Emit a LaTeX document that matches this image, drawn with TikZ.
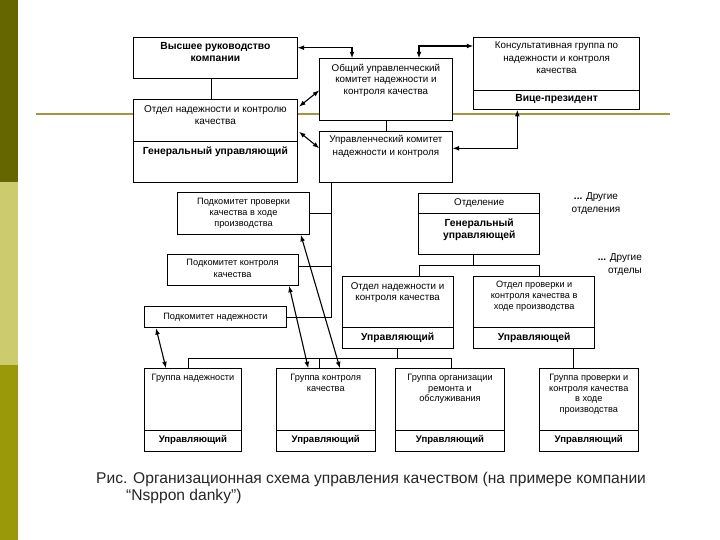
\documentclass[tikz,border=0pt]{standalone}
\usepackage{fontspec}
\setmainfont{Liberation Sans}
\usetikzlibrary{arrows.meta}
\definecolor{bartop}{RGB}{102,102,0}
\definecolor{barmid}{RGB}{204,204,110}
\definecolor{barbot}{RGB}{153,153,10}
\definecolor{tmplline}{RGB}{160,152,60}
\begin{document}
\begin{tikzpicture}[x=1pt,y=-1pt,
  box/.style={draw, fill=white, line width=0.8pt, inner sep=0pt, anchor=north west},
  txt/.style={font=\fontsize{9.8}{11.5}\selectfont, align=center, inner sep=0pt, anchor=north},
  btxt/.style={font=\fontsize{10.3}{12}\selectfont\bfseries, align=center, inner sep=0pt},
  arr/.style={{Latex[length=6.5pt,width=4.8pt]}-{Latex[length=6.5pt,width=4.8pt]}, line width=1.1pt},
  con/.style={line width=0.8pt},
  dv/.style={line width=0.8pt}]
\useasboundingbox (0,0) rectangle (720,540);
\fill[white] (0,0) rectangle (720,540);
\fill[bartop] (0,0) rectangle (17.5,182);
\fill[barmid] (0,182) rectangle (17.5,365);
\fill[barbot] (0,365) rectangle (17.5,540);
\draw[tmplline, line width=2pt] (36,114) -- (670,114);

% boxes
\node[box, minimum width=163.4pt, minimum height=41pt] (vys) at (133.3,37.3) {};
\node[box, minimum width=132.4pt, minimum height=61.7pt] (obs) at (319.3,58.3) {};
\node[box, minimum width=165.7pt, minimum height=71.7pt] (kons) at (473.3,37.3) {};
\node[box, minimum width=163.4pt, minimum height=83pt] (otd) at (133.3,99.3) {};
\node[box, minimum width=132.4pt, minimum height=51.6pt] (upr) at (319.3,130.7) {};
\node[box, minimum width=131.7pt, minimum height=41.7pt] (podpr) at (177.3,192.3) {};
\node[box, minimum width=131pt, minimum height=31pt] (podkon) at (166.7,254) {};
\node[box, minimum width=141.4pt, minimum height=21.3pt] (podnad) at (144.3,306) {};
\node[box, minimum width=121pt, minimum height=61.3pt] (otdl) at (418.3,192.7) {};
\node[box, minimum width=111pt, minimum height=72.3pt] (otdn) at (341.7,276) {};
\node[box, minimum width=121pt, minimum height=72.3pt] (otdp) at (473.3,276) {};
\node[box, minimum width=97pt, minimum height=82.4pt] (grn) at (144,368.3) {};
\node[box, minimum width=99.3pt, minimum height=82.4pt] (grk) at (275.7,368.3) {};
\node[box, minimum width=109.3pt, minimum height=82.4pt] (gro) at (395,368.3) {};
\node[box, minimum width=98.7pt, minimum height=82.4pt] (grp) at (539,368.3) {};

% dividers
\draw[dv] (kons.west |- 0,90) -- (kons.east |- 0,90);
\draw[dv] (otd.west |- 0,141) -- (otd.east |- 0,141);
\draw[dv] (otdl.west |- 0,213.3) -- (otdl.east |- 0,213.3);
\draw[dv] (otdn.west |- 0,327.7) -- (otdn.east |- 0,327.7);
\draw[dv] (otdp.west |- 0,327.7) -- (otdp.east |- 0,327.7);
\draw[dv] (grn.west |- 0,430) -- (grn.east |- 0,430);
\draw[dv] (grk.west |- 0,430) -- (grk.east |- 0,430);
\draw[dv] (gro.west |- 0,430) -- (gro.east |- 0,430);
\draw[dv] (grp.west |- 0,430) -- (grp.east |- 0,430);

% texts
\node[btxt, anchor=north] (t1) at (vys.north |- 0,42.5) {Высшее руководство\\компании};
\node[txt] (t2) at (obs.north |- 0,63.8) {Общий управленческий\\комитет надежности и\\контроля качества};
\node[txt, font=\fontsize{9.8}{12.5}\selectfont] (t3) at (kons.north |- 0,42) {Консультативная группа по\\надежности и контроля\\качества};
\node[btxt] (t4) at (kons.south |- 0,99.5) {Вице-президент};
\node[txt, font=\fontsize{10}{11.7}\selectfont] (t5) at (otd.north |- 0,105.5) {Отдел надежности и контролю\\качества};
\node[btxt] (t6) at (otd.north |- 0,151.7) {Генеральный управляющий};
\node[txt, font=\fontsize{9.8}{12.5}\selectfont] (t7) at (upr.north |- 0,135.5) {Управленческий комитет\\надежности и контроля};
\node[txt, font=\fontsize{9.2}{10.8}\selectfont] (t8) at (podpr.north |- 0,198.3) {Подкомитет проверки\\качества в ходе\\производства};
\node[txt, font=\fontsize{9.2}{11.5}\selectfont] (t9) at (podkon.north |- 0,259) {Подкомитет контроля\\качества};
\node[txt, anchor=center, font=\fontsize{9.2}{11}\selectfont] (t10) at (podnad.center) {Подкомитет надежности};
\node[txt, anchor=center] (t11) at (otdl.north |- 0,202.9) {Отделение};
\node[btxt, anchor=north] (t12) at (otdl.north |- 0,218.8) {Генеральный\\управляющей};
\node[txt] (t13) at (otdn.north |- 0,282.2) {Отдел надежности и\\контроля качества};
\node[btxt] (t14) at (otdn.north |- 0,337.7) {Управляющий};
\node[txt, font=\fontsize{9.2}{11}\selectfont] (t15) at (otdp.north |- 0,280.8) {Отдел проверки и\\контроля качества в\\ходе производства};
\node[btxt] (t16) at (otdp.north |- 0,337.7) {Управляющей};
\node[txt, font=\fontsize{9.2}{10.6}\selectfont] (t17) at (grn.north |- 0,374) {Группа надежности};
\node[txt, font=\fontsize{9.2}{10.6}\selectfont] (t18) at (grk.north |- 0,374) {Группа контроля\\качества};
\node[txt, font=\fontsize{9.2}{10.6}\selectfont] (t19) at (gro.north |- 0,374) {Группа организации\\ремонта и\\обслуживания};
\node[txt, font=\fontsize{9.2}{10.6}\selectfont] (t20) at (grp.north |- 0,374) {Группа проверки и\\контроля качества\\в ходе\\производства};
\node[btxt, font=\fontsize{9.6}{11}\selectfont\bfseries] (t21) at (grn.north |- 0,440) {Управляющий};
\node[btxt, font=\fontsize{9.6}{11}\selectfont\bfseries] (t22) at (grk.north |- 0,440) {Управляющий};
\node[btxt, font=\fontsize{9.6}{11}\selectfont\bfseries] (t23) at (gro.north |- 0,440) {Управляющий};
\node[btxt, font=\fontsize{9.6}{11}\selectfont\bfseries] (t24) at (grp.north |- 0,440) {Управляющий};

\node[font=\fontsize{10}{13}\selectfont, align=center, inner sep=0pt, anchor=north] (t25) at (596,192) {{\bfseries...} Другие\\отделения};
\node[font=\fontsize{10}{13}\selectfont, align=right, inner sep=0pt, anchor=north east] (t26) at (642,253) {{\bfseries...} Другие\\отделы};

\node[font=\fontsize{15.6}{18}\selectfont, inner sep=0pt, anchor=west, text=black!85] (cap1) at (96,479.7) {Рис. Организационная схема управления качеством (на примере компании};
\node[font=\fontsize{15.6}{18}\selectfont, inner sep=0pt, anchor=west, text=black!85] (cap2) at (126,496.9) {“Nsppon danky”)};

% plain connectors
\draw[con] ([xshift=-4.3pt]vys.south) -- ([xshift=-4.3pt]otd.north);
\draw[con] (obs.south) -- (upr.north);
\coordinate (trunk) at ([xshift=11.7pt]upr.south west);
\draw[con] (trunk) |- (podnad.east);
\draw[con] (podpr.east) -- (podpr.east -| trunk);
\draw[con] ([yshift=3.5pt]podkon.east) -- ([yshift=3.5pt]podkon.east -| trunk);
\draw[con] ([xshift=-5.5pt]otdl.south) -- ([xshift=-5.5pt]otdl.south |- 0,265.7);
\draw[con] ([xshift=21.8pt]otdn.north) -- ([xshift=21.8pt]otdn.north |- 0,265.7) -| ([xshift=5.5pt]otdp.north);
\draw[con] ([xshift=38.9pt]otdp.south) -- ([xshift=38.9pt]otdp.south |- grp.north);
\draw[con] (otdn.south) -- (otdn.south |- 0,358.3);
\draw[con] ([xshift=-4.2pt]grn.north) -- ([xshift=-4.2pt]grn.north |- 0,358.3) -| ([xshift=1.3pt]gro.north);
\draw[con] ([xshift=-6.3pt]grk.north) -- ([xshift=-6.3pt]grk.north |- 0,358.3);

% double arrows
\draw[arr] ([yshift=-10.4pt]vys.north east) -| ([xshift=32.7pt]obs.north west);
\draw[arr] ([yshift=-8.7pt]kons.north west) -| ([xshift=99.7pt]obs.north west);
\draw[arr] ([xshift=1.5pt,yshift=-7.4pt]otd.north east) -- ([yshift=-0.8pt]obs.west);
\draw[arr] ([xshift=1.5pt,yshift=-32.4pt]otd.north east) -- ([yshift=-17.6pt]upr.north west);
\draw[arr] ([xshift=44pt]kons.south west) |- ([yshift=-17.6pt]upr.north east);
\draw[arr] ([xshift=11.7pt]podnad.south west) -- ([xshift=22pt]grn.north west);
\draw[arr] ([xshift=-9.4pt]podkon.south east) -- ([xshift=32.6pt]grk.north west);
\draw[arr] ([xshift=-9pt]podpr.south east) -- ([xshift=64.3pt]grk.north west);
\end{tikzpicture}
\end{document}
